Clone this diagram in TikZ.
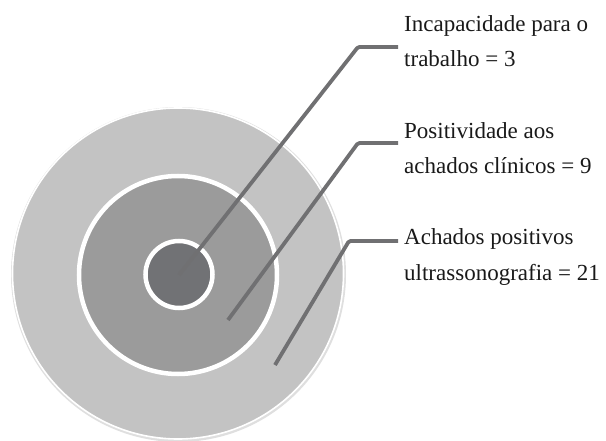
\documentclass[tikz,border=0pt]{standalone}
\usepackage{fontspec}
\setmainfont{Liberation Serif}
\begin{document}
\begin{tikzpicture}[x=1pt,y=-1pt,
  ring/.style={circle, draw=white, inner sep=0pt, line width=4.5pt},
  leader/.style={color={rgb,255:red,112;green,112;blue,114}, line width=3.8pt, line join=round, rounded corners=1.5pt},
  lbl/.style={anchor=base west, inner sep=0pt, font=\fontsize{23}{35}\selectfont, text={rgb,255:red,25;green,25;blue,25}}]
\useasboundingbox (0,0) rectangle (606,441);
\definecolor{outerfill}{RGB}{195,195,195}
\definecolor{midfill}{RGB}{155,155,155}
\definecolor{innerfill}{RGB}{113,114,117}
% outer target with faint shadow
\fill[gray!25] (178.5,274.5) circle (167.5);
\node[circle, fill=outerfill, draw=white, line width=1.6pt, minimum size=331pt, inner sep=0pt] (outer) at (178,273.5) {};
\node[ring, fill=midfill, minimum size=198pt] (middle) at (178,275) {};
\node[ring, fill=innerfill, minimum size=67pt] (inner) at (179,274.5) {};
% leader points
\coordinate (p1) at (179,275);
\coordinate (e1) at (358,47);
\coordinate (s1) at (398,47);
\coordinate (p2) at (228,320);
\coordinate (e2) at (358,143);
\coordinate (s2) at (398,143);
\coordinate (p3) at (275,365);
\coordinate (e3) at (349,241);
\coordinate (s3) at (398,241);
\draw[leader] (p1) -- (e1) -- (s1);
\draw[leader] (p2) -- (e2) -- (s2);
\draw[leader] (p3) -- (e3) -- (s3);
% labels
\node[lbl] (t1a) at (404,32) {Incapacidade para o};
\node[lbl] (t1b) at (404,67) {trabalho = 3};
\node[lbl] (t2a) at (404,139) {Positividade aos};
\node[lbl] (t2b) at (404,174) {achados clínicos = 9};
\node[lbl] (t3a) at (404,245) {Achados positivos};
\node[lbl] (t3b) at (404,280) {ultrassonografia = 21};
\end{tikzpicture}
\end{document}
